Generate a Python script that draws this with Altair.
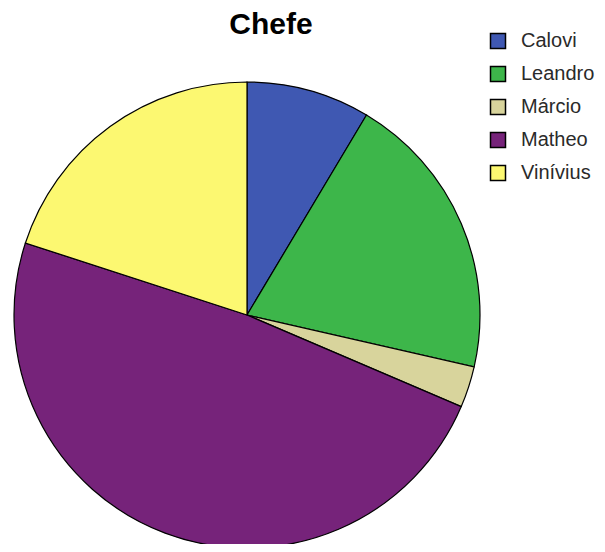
import altair as alt
import pandas as pd

names = ["Calovi", "Leandro", "Márcio", "Matheo", "Vinívius"]
counts = [3, 7, 1, 17, 7]
colors = ["#3f58b2", "#3db64a", "#d8d49c", "#76237a", "#fcf871"]
title_text = ["Chefe"]

df = pd.DataFrame({"nome": names, "n": counts, "ordem": list(range(len(names)))})

# view origin on page: (8, 8)
cx, cy, r = 247 - 8, 315 - 8, 233

pie = alt.Chart(df).mark_arc(stroke="black", strokeWidth=1.2).encode(
    theta=alt.Theta("n:Q", stack=True),
    order=alt.Order("ordem:Q"),
    color=alt.Color(
        "nome:N",
        scale=alt.Scale(domain=names, range=colors),
        sort=names,
        legend=alt.Legend(
            title=None,
            orient="none",
            legendX=480,
            legendY=23,
            symbolType="square",
            symbolSize=225,
            symbolStrokeColor="black",
            symbolStrokeWidth=1.5,
            labelFontSize=20,
            labelFont="Liberation Sans",
            labelColor="#2a2a2a",
            labelOffset=13,
            labelLimit=0,
            rowPadding=11,
        ),
    ),
    x=alt.value(cx),
    y=alt.value(cy),
    radius=alt.value(r),
)

title = alt.Chart(pd.DataFrame({"t": title_text})).mark_text(
    font="Liberation Sans",
    fontSize=30,
    fontWeight="bold",
    color="black",
    align="center",
    baseline="alphabetic",
).encode(
    text="t:N",
    x=alt.value(271 - 8),
    y=alt.value(34 - 8),
)

chart = alt.layer(pie, title).properties(
    width=589,
    height=536,
    autosize=alt.AutoSizeParams(type="none"),
    padding=0,
).configure_view(stroke=None)

chart.save("out.html", embed_options={"renderer": "svg", "actions": False})
